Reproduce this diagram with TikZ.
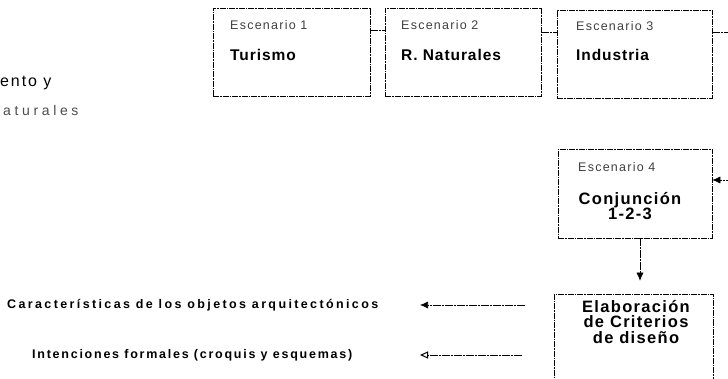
\documentclass[tikz,border=0pt]{standalone}
\usepackage{fontspec}
\setmainfont{Liberation Sans}
\newfontfamily\lblfont[LetterSpace=10]{Liberation Sans}
\newfontfamily\ttlfont[LetterSpace=6]{Liberation Sans}
\newfontfamily\bigfont[LetterSpace=8]{Liberation Sans}
\newfontfamily\capfont[LetterSpace=19]{Liberation Sans}
\newfontfamily\capfontb[LetterSpace=14]{Liberation Sans}
\newfontfamily\sidefont[LetterSpace=12]{Liberation Sans}
\newfontfamily\sidelight[LetterSpace=26]{Liberation Sans}
\usetikzlibrary{arrows.meta}
\begin{document}
\begin{tikzpicture}[x=1pt,y=-1pt,
  box/.style={draw, rectangle, inner sep=0pt, line width=0.6pt,
    dash pattern=on 6pt off 1pt on 1.5pt off 1pt},
  conn/.style={draw, line width=0.6pt, dash pattern=on 8pt off 1pt on 2pt off 1pt},
  lbl/.style={anchor=west, inner sep=0pt, text=black!75,
    font=\lblfont\fontsize{12.5}{14}\selectfont},
  ttl/.style={inner sep=0pt, font=\ttlfont\bfseries\fontsize{15.5}{17}\selectfont},
  big/.style={inner sep=0pt, align=center,
    font=\bigfont\bfseries\fontsize{16.5}{15.8}\selectfont},
  capt/.style={anchor=west, inner sep=0pt,
    font=\capfont\bfseries\fontsize{12.5}{14}\selectfont},
  side/.style={anchor=west, inner sep=0pt, font=\sidefont\fontsize{16}{18}\selectfont}]
\useasboundingbox (0,0) rectangle (728,379);
% boxes
\node[box, minimum width=157pt, minimum height=88pt] (s1) at (291.5,52) {};
\node[box, minimum width=156pt, minimum height=88pt] (s2) at (463,52) {};
\node[box, minimum width=155pt, minimum height=88pt] (s3) at (634.5,54) {};
\node[box, minimum width=154pt, minimum height=89pt] (s4) at (635,193.5) {};
\node[box, minimum width=159pt, minimum height=110pt] (s5) at (633.5,349) {};
% box texts
\node[lbl] (e1) at (230,25) {Escenario 1};
\node[ttl, anchor=west] (t1) at (230,55) {Turismo};
\node[lbl] (e2) at (401,25) {Escenario 2};
\node[ttl, anchor=west] (t2) at (401,55) {R. Naturales};
\node[lbl] (e3) at (576,26) {Escenario 3};
\node[ttl, anchor=west] (t3) at (576,55) {Industria};
\node[lbl] (e4) at (578,167) {Escenario 4};
\node[big] (t4) at (630,206) {Conjunción\\1-2-3};
\node[big] (t5) at (636,322) {Elaboración\\de Criterios\\de diseño};
% side texts
\node[side] (l1) at (0,83) {ento y};
\node[side, text=black!70, font=\sidelight\fontsize{14}{16}\selectfont] (l2) at (3,110) {aturales};
\node[capt] (k1) at (7,305) {Características de los objetos arquitectónicos};
\node[capt, font=\capfontb\bfseries\fontsize{12.5}{14}\selectfont] (k2) at (32,355) {Intenciones formales (croquis y esquemas)};
% connectors
\coordinate (c1) at (0,30);
\coordinate (c2) at (0,32);
\coordinate (c3) at (745,32);
\coordinate (c4) at (745,180);
\coordinate (v) at (640,0);
\coordinate (a1) at (420,305);
\coordinate (a2) at (420,355);
\draw[conn] (s1.east |- c1) -- (s2.west |- c1);
\draw[conn] (s2.east |- c2) -- (s3.west |- c2);
\draw[conn, -{Latex[length=8pt,width=7pt]}] (s3.east |- c3) -- (c3) -- (c4) -- (s4.east |- c4);
\draw[conn, -{Latex[length=8pt,width=7pt]}, shorten >=13pt] (s4.south -| v) -- (s5.north -| v);
\draw[conn, -{Latex[length=8pt,width=7pt]}, shorten <=29pt] (s5.west |- a1) -- (a1);
\draw[conn, -{Triangle[open,length=8pt,width=7pt,line width=1pt]}, shorten <=32pt] (s5.west |- a2) -- (a2);
\end{tikzpicture}
\end{document}
